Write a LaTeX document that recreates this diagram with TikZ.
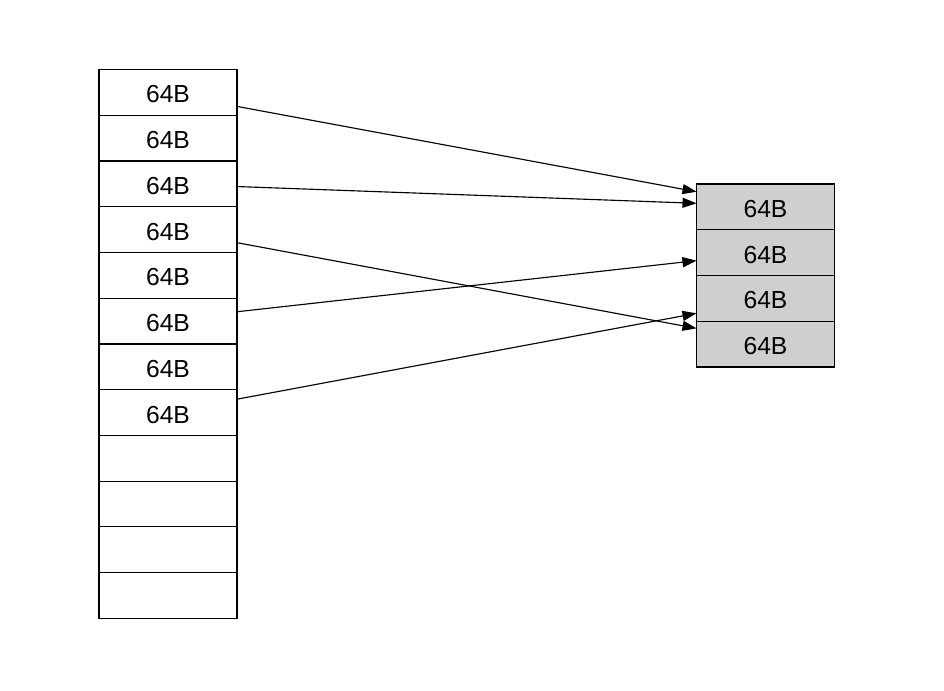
\documentclass[tikz,border=0pt]{standalone}
\usepackage{fontspec}
\setmainfont{Liberation Sans}
\usetikzlibrary{positioning, arrows.meta}

\begin{document}
\begin{tikzpicture}[
    x=0.75pt, y=-0.75pt,
    node distance=0pt,
    cell/.style={rectangle, draw, line width=0.85pt, outer sep=0pt, inner sep=0pt,
        minimum width=103.5pt, minimum height=34.3pt, text height=16pt,
        font=\fontsize{18.5}{21}\selectfont},
    cached/.style={cell, fill=black!19},
    link/.style={-{Triangle[length=10.5pt, width=7.5pt]}, line width=0.85pt}
]
\useasboundingbox (0,0) rectangle (944,690);

% Memory column
\node[cell] (l1) at (168,92.4) {64B};
\node[cell, below=of l1] (l2) {64B};
\node[cell, below=of l2] (l3) {64B};
\node[cell, below=of l3] (l4) {64B};
\node[cell, below=of l4] (l5) {64B};
\node[cell, below=of l5] (l6) {64B};
\node[cell, below=of l6] (l7) {64B};
\node[cell, below=of l7] (l8) {64B};
\node[cell, below=of l8] (l9) {};
\node[cell, below=of l9] (l10) {};
\node[cell, below=of l10] (l11) {};
\node[cell, below=of l11] (l12) {};

% Cache lines
\node[cached] (r1) at (765.5,206.9) {64B};
\node[cached, below=of r1] (r2) {64B};
\node[cached, below=of r2] (r3) {64B};
\node[cached, below=of r3] (r4) {64B};

% Mappings
\draw[link] ([yshift=-10.5pt]l1.east) -- ([yshift=11.4pt]r1.west);
\draw[link] ([yshift=-2pt]l3.east) -- ([yshift=2.7pt]r1.west);
\draw[link] ([yshift=-9.8pt]l4.east) -- ([yshift=11.8pt]r4.west);
\draw[link] ([yshift=7pt]l6.east) -- ([yshift=-6pt]r2.west);
\draw[link] ([yshift=10pt]l8.east) -- ([yshift=-11.2pt]r3.west);

\end{tikzpicture}
\end{document}
